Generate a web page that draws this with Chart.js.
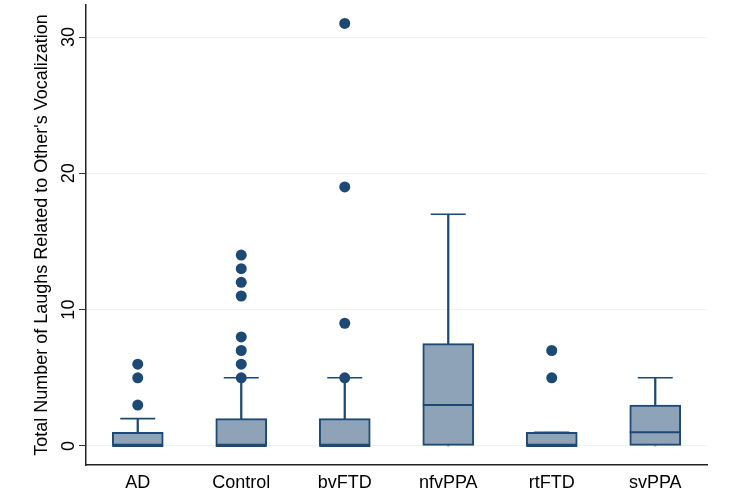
<!DOCTYPE html>
<html>
<head>
<meta charset="utf-8">
<script src="https://cdn.jsdelivr.net/npm/chart.js@4"></script>
<style>
  html, body { margin: 0; padding: 0; background: #fff; }
  #wrap { width: 729px; height: 496px; }
</style>
</head>
<body>
<div id="wrap"><canvas id="cv"></canvas></div>
<script>
// box plot summary
const categories = ['AD', 'Control', 'bvFTD', 'nfvPPA', 'rtFTD', 'svPPA'];
const q1 = [0, 0, 0, 0, 0, 0];
const median = [0, 0, 0, 3, 0, 1];
const q3 = [1, 2, 2, 7.5, 1, 3];
const whiskerLo = [0, 0, 0, 0, 0, 0];
const whiskerHi = [2, 5, 5, 17, 1, 5];
const outliersAD = [3, 5, 6];
const outliersControl = [5, 6, 7, 8, 11, 12, 13, 14];
const outliersBvFTD = [5, 9, 19, 31];
const outliersNfvPPA = [];
const outliersRtFTD = [5, 7];
const outliersSvPPA = [];
const yTicks = [0, 10, 20, 30];

const outlierLists = [outliersAD, outliersControl, outliersBvFTD, outliersNfvPPA, outliersRtFTD, outliersSvPPA];

const NAVY = '#1c4a74';
const FILL = '#8fa3b8';
const FONT = 'Liberation Sans, Arial, Helvetica, sans-serif';

const pts = vals => vals.map((v, i) => ({ x: categories[i], y: v }));
const outlierPts = [];
outlierLists.forEach((list, i) => list.forEach(v => outlierPts.push({ x: categories[i], y: v })));

const pointLine = (data, r, w, order) => ({
  type: 'line', data, showLine: false, order,
  pointStyle: 'line', pointRadius: r, pointHoverRadius: r,
  pointBorderColor: NAVY, pointBorderWidth: w, pointBackgroundColor: NAVY
});

new Chart(document.getElementById('cv').getContext('2d'), {
  type: 'bar',
  data: {
    labels: categories,
    datasets: [
      { // upper whiskers
        data: q3.map((v, i) => [v, whiskerHi[i]]), order: 5, grouped: false,
        barThickness: 1.6, backgroundColor: NAVY, borderWidth: 0
      },
      { // lower whiskers
        data: q1.map((v, i) => [whiskerLo[i], v]), order: 5, grouped: false,
        barThickness: 1.6, backgroundColor: NAVY, borderWidth: 0
      },
      { // boxes
        data: q1.map((v, i) => [v, q3[i]]), order: 4, grouped: false,
        barThickness: 51, backgroundColor: FILL, borderColor: NAVY,
        borderWidth: 2, borderSkipped: false
      },
      pointLine(pts(median), 25.5, 2, 3),
      pointLine(pts(whiskerHi), 17.5, 1.6, 2),
      {
        type: 'line', data: outlierPts, showLine: false, order: 0,
        pointStyle: 'circle', pointRadius: 5.5, pointHoverRadius: 5.5,
        pointBackgroundColor: NAVY, pointBorderColor: NAVY, pointBorderWidth: 0
      }
    ]
  },
  options: {
    responsive: true,
    maintainAspectRatio: false,
    animation: false,
    layout: { autoPadding: false, padding: { top: 5, right: 22, left: 0, bottom: 0 } },
    plugins: { legend: { display: false }, tooltip: { enabled: false } },
    scales: {
      x: {
        grid: { display: false, drawTicks: false },
        border: { display: true, color: '#222', width: 1.5 },
        ticks: { color: '#000', padding: 7, font: { size: 18, family: FONT } },
        afterFit: s => { s.height = 31; s.paddingLeft = 0; s.paddingRight = 0; }
      },
      y: {
        min: -1.4,
        max: 32.35,
        afterBuildTicks: ax => { ax.ticks = yTicks.map(v => ({ value: v })); },
        grid: { color: '#edf2f5', lineWidth: 1, tickLength: 7, tickColor: '#333' },
        border: { display: true, color: '#222', width: 1.5 },
        ticks: {
          color: '#000', padding: 0, minRotation: 90, maxRotation: 90,
          crossAlign: 'center', font: { size: 18, family: FONT }
        },
        title: {
          display: true,
          text: "Total Number of Laughs Related to Other's Vocalization",
          color: '#000',
          font: { size: 18, family: FONT },
          padding: { top: 31, bottom: 0 }
        },
        afterFit: s => { s.width = 86; s.paddingTop = 0; s.paddingBottom = 0; }
      }
    }
  }
});
</script>
</body>
</html>
